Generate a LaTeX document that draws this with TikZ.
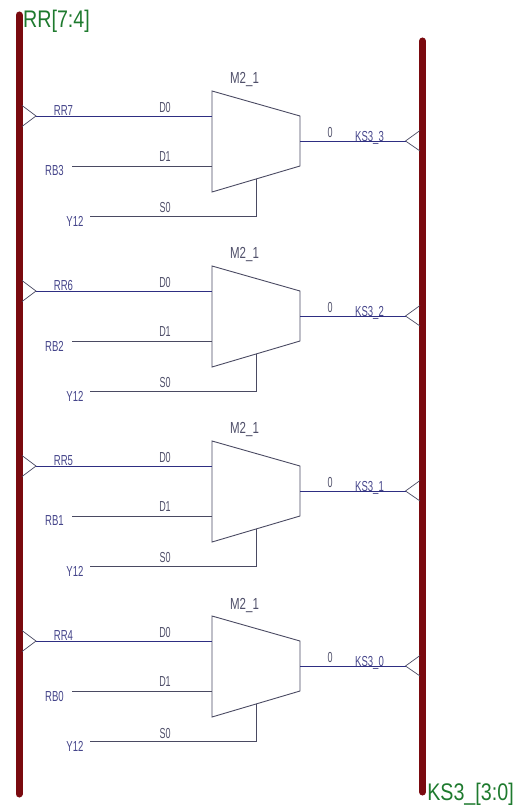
\documentclass[tikz,border=0pt]{standalone}
\usepackage{fontspec}
\setmainfont{Liberation Sans}
\definecolor{busred}{HTML}{7A0A0F}
\definecolor{wireblue}{HTML}{2E2E82}
\definecolor{muxgrey}{HTML}{4A4A62}
\definecolor{labelblue}{HTML}{45458A}
\definecolor{pingrey}{HTML}{50506A}
\definecolor{busgreen}{HTML}{1E7A2E}
\tikzset{
  bus/.style={line width=7pt,color=busred,line cap=round},
  wire/.style={line width=0.9pt,color=wireblue},
  muxbody/.style={line width=0.9pt,color=muxgrey},
  chevron/.style={line width=0.7pt,color=muxgrey},
  netlabel/.style={inner sep=0pt,text=labelblue,font=\fontsize{14.5}{14.5}\selectfont,xscale=0.66},
  pinlabel/.style={inner sep=0pt,text=pingrey,font=\fontsize{14.5}{14.5}\selectfont,xscale=0.62},
  cellname/.style={inner sep=0pt,text=pingrey,font=\fontsize{16}{16}\selectfont,xscale=0.72},
  busname/.style={inner sep=0pt,text=busgreen,font=\fontsize{24}{24}\selectfont,xscale=0.82}
}
\begin{document}
\begin{tikzpicture}[x=1pt,y=-1pt]
\useasboundingbox (0,0) rectangle (523,810);
\coordinate (lt) at (19,15);
\coordinate (lb) at (19,794);
\coordinate (rt) at (422.5,41);
\coordinate (rb) at (422.5,792);
\draw[bus] (lt) -- (lb);
\draw[bus] (rt) -- (rb);
\node[busname] (lname) at (56.5,21) {RR[7:4]};
\node[busname] (rname) at (470.5,794) {KS3\_[3:0]};
\foreach \r/\a/\b/\k/\o in {0/7/3/3/0,1/6/2/2/175,2/5/1/1/350,3/4/0/0/525}{
  \begin{scope}[yshift=-\o pt]
    % multiplexer
    \coordinate (m\r tl) at (212,91);
    \coordinate (m\r tr) at (300,116);
    \coordinate (m\r br) at (300,166);
    \coordinate (m\r bl) at (212,192);
    \coordinate (m\r d0) at (212,116);
    \coordinate (m\r d1) at (212,166);
    \coordinate (m\r s0) at (256,179);
    \coordinate (m\r o) at (300,141);
    \draw[muxbody] (m\r tl) -- (m\r tr) -- (m\r br) -- (m\r bl) -- cycle;
    \node[cellname] (cell\r) at (244.5,80) {M2\_1};
    % input tap on left bus
    \coordinate (la\r) at (22,105.5);
    \coordinate (lc\r) at (22,126.5);
    \coordinate (lp\r) at (36,116);
    \draw[chevron] (la\r) -- (lp\r) -- (lc\r);
    \draw[wire] (lp\r) -- (m\r d0);
    % output tap on right bus
    \coordinate (ra\r) at (420,130.5);
    \coordinate (rc\r) at (420,151);
    \coordinate (rp\r) at (405.5,141);
    \draw[chevron] (ra\r) -- (rp\r) -- (rc\r);
    \draw[wire] (m\r o) -- (rp\r);
    % other inputs
    \coordinate (w1\r) at (72,166);
    \coordinate (w2\r) at (90,216.5);
    \coordinate (w3\r) at (256,216.5);
    \draw[muxbody] (w1\r) -- (m\r d1);
    \draw[muxbody] (w2\r) -- (w3\r) -- (m\r s0);
    % labels
    \node[netlabel] (na\r) at (63.5,111) {RR\a};
    \node[netlabel] (nb\r) at (54.5,171) {RB\b};
    \node[netlabel] (ny\r) at (75,221) {Y12};
    \node[pinlabel] (pd0\r) at (165,107.5) {D0};
    \node[pinlabel] (pd1\r) at (165,157) {D1};
    \node[pinlabel] (ps0\r) at (165,208) {S0};
    \node[pinlabel] (po\r) at (330,133) {0};
    \node[netlabel] (nk\r) at (369.5,137.5) {KS3\_\k};
  \end{scope}
}
\end{tikzpicture}
\end{document}
